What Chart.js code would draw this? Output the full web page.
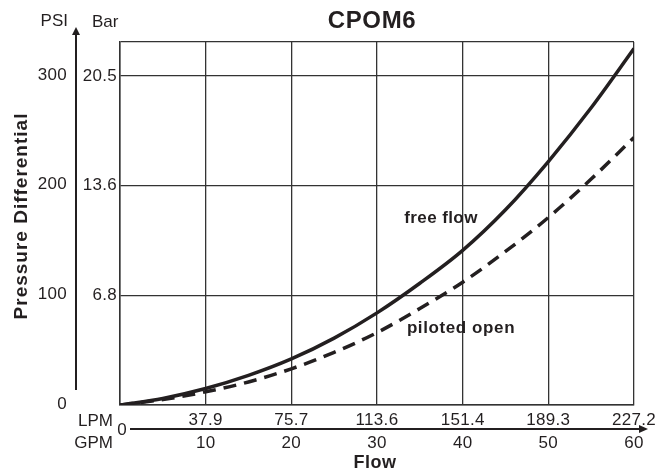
<!DOCTYPE html>
<html>
<head>
<meta charset="utf-8">
<script src="https://cdn.jsdelivr.net/npm/chart.js@4"></script>
<style>
  html, body { margin: 0; padding: 0; background: #fff; }
  #wrap { width: 663px; height: 476px; }
</style>
</head>
<body>
<div id="wrap"><canvas id="chart" width="663" height="476"></canvas></div>
<script>
// flow in GPM, pressure in PSI
var gpm = [0, 5, 10, 15, 20, 25, 30, 35, 40, 45, 50, 55, 60];
var free_flow_psi = [0, 6, 15, 27, 42, 61, 84, 111, 141, 178, 222, 271, 325];
var piloted_open_psi = [0, 5, 12, 21, 33, 48, 66, 88, 112, 140, 171, 206, 244];

// axis labels
var gpm_ticks = [10, 20, 30, 40, 50, 60];
var lpm_labels = ["37.9", "75.7", "113.6", "151.4", "189.3", "227.2"];
var psi_ticks = [0, 100, 200, 300];
var bar_labels = ["", "6.8", "13.6", "20.5"];

var ink = "#231f20";
var font = "'Liberation Sans', Arial, Helvetica, sans-serif";

function points(xs, ys) {
    var out = [];
    for (let i = 0; i < xs.length; i++) {
        out.push({ x: xs[i], y: ys[i] });
    }
    return out;
}

function text(ctx, str, x, y, size, bold, align, spacing) {
    ctx.font = (bold ? "bold " : "") + size + "px " + font;
    ctx.textAlign = align || "center";
    ctx.textBaseline = "middle";
    ctx.letterSpacing = (spacing || 0) + "px";
    ctx.fillStyle = ink;
    ctx.fillText(str, x, y);
}

var decorations = {
    id: "decorations",
    afterDraw: function(chart) {
        const ctx = chart.ctx;
        const xs = chart.scales.x;
        const ys = chart.scales.y;
        const y0 = ys.getPixelForValue(0);
        ctx.save();

        // title
        text(ctx, "CPOM6", 372, 21, 24, true, "center", 0.6);

        // left axis with arrow
        ctx.strokeStyle = ink;
        ctx.fillStyle = ink;
        ctx.lineWidth = 2;
        ctx.beginPath();
        ctx.moveTo(76, y0 - 15);
        ctx.lineTo(76, 33);
        ctx.stroke();
        ctx.beginPath();
        ctx.moveTo(76, 27);
        ctx.lineTo(72, 35);
        ctx.lineTo(80, 35);
        ctx.closePath();
        ctx.fill();

        text(ctx, "PSI", 68, 21, 17, false, "right");
        text(ctx, "Bar", 92, 22, 17, false, "left");
        for (let i = 0; i < psi_ticks.length; i++) {
            const py = ys.getPixelForValue(psi_ticks[i]);
            text(ctx, String(psi_ticks[i]), 67, py - 1, 17, false, "right", 0.3);
            if (bar_labels[i]) {
                text(ctx, bar_labels[i], 117, py, 17, false, "right", 0.3);
            }
        }

        // y title
        ctx.save();
        ctx.translate(22, 216);
        ctx.rotate(-Math.PI / 2);
        text(ctx, "Pressure Differential", 0, 0, 19, true, "center", 1);
        ctx.restore();

        // bottom axis with arrow
        const ay = 429;
        ctx.lineWidth = 2;
        ctx.beginPath();
        ctx.moveTo(130, ay);
        ctx.lineTo(641, ay);
        ctx.stroke();
        ctx.beginPath();
        ctx.moveTo(648, ay);
        ctx.lineTo(639, ay - 4);
        ctx.lineTo(639, ay + 4);
        ctx.closePath();
        ctx.fill();

        text(ctx, "LPM", 113, 421, 17, false, "right");
        text(ctx, "GPM", 113, 443, 17, false, "right");
        text(ctx, "0", 122, 430, 17, false, "center");
        for (let i = 0; i < gpm_ticks.length; i++) {
            const px = xs.getPixelForValue(gpm_ticks[i]);
            text(ctx, lpm_labels[i], px, 420, 17, false, "center", 0.3);
            text(ctx, String(gpm_ticks[i]), px, 443, 17, false, "center", 0.3);
        }
        text(ctx, "Flow", 375, 463, 18, true, "center", 0.5);

        // curve labels
        text(ctx, "free flow", 441, 218, 17, true, "center", 0.4);
        text(ctx, "piloted open", 461, 328, 17, true, "center", 0.6);

        ctx.restore();
    }
};

const ctx = document.getElementById("chart").getContext("2d");
const myChart = new Chart(ctx, {
    type: "line",
    data: {
        datasets: [{
            label: "free flow",
            data: points(gpm, free_flow_psi),
            borderColor: ink,
            borderWidth: 3.5,
            pointRadius: 0,
            cubicInterpolationMode: "monotone",
        }, {
            label: "piloted open",
            data: points(gpm, piloted_open_psi),
            borderColor: ink,
            borderWidth: 3.5,
            borderDash: [13, 8],
            pointRadius: 0,
            cubicInterpolationMode: "monotone",
        }],
    },
    options: {
        responsive: false,
        animation: false,
        layout: {
            padding: { left: 120, top: 42, right: 29, bottom: 71 },
        },
        plugins: {
            legend: { display: false },
            tooltip: { enabled: false },
        },
        scales: {
            x: {
                type: "linear",
                min: 0,
                max: 60,
                ticks: { display: false, stepSize: 10 },
                grid: { color: "#333", lineWidth: 1.3, drawTicks: false },
                border: { color: "#333", width: 1.5 },
            },
            y: {
                min: 0,
                max: 331,
                ticks: { display: false, stepSize: 100 },
                grid: { color: "#333", lineWidth: 1.3, drawTicks: false },
                border: { color: "#333", width: 1.5 },
            },
        },
    },
    plugins: [decorations],
});
</script>
</body>
</html>
